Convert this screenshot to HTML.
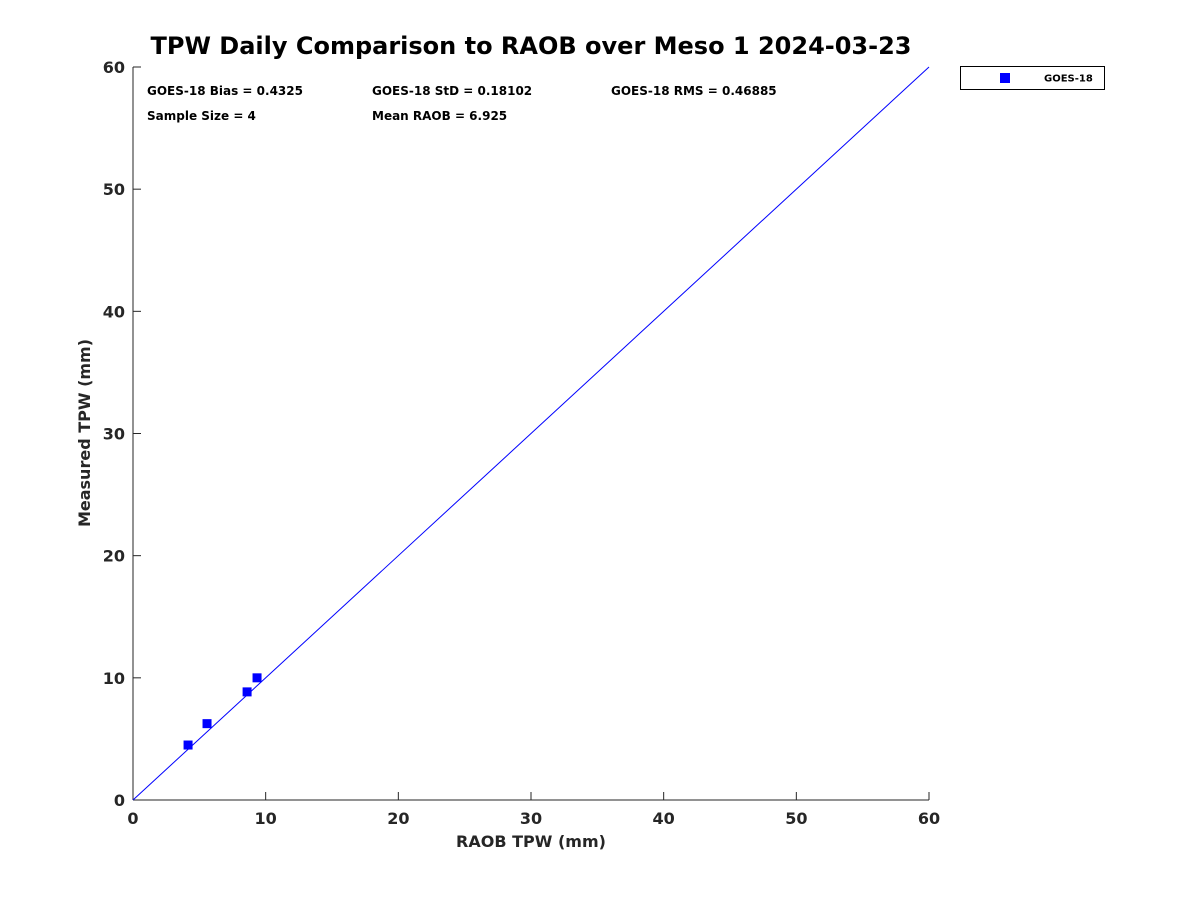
<!DOCTYPE html>
<html><head><meta charset="utf-8"><style>
body{margin:0;background:#fff;font-family:"Liberation Sans","DejaVu Sans",sans-serif}
</style></head><body>
<svg width="1200" height="900" xmlns="http://www.w3.org/2000/svg" font-family="DejaVu Sans, Liberation Sans, sans-serif" font-weight="bold">
<rect width="1200" height="900" fill="#fff"/>
<text x="531" y="54" text-anchor="middle" font-size="24" fill="#000">TPW Daily Comparison to RAOB over Meso 1 2024-03-23</text>
<g id="axes"></g>
<g id="marks"></g>
<g font-size="12" fill="#000">
<text x="147" y="95">GOES-18 Bias = 0.4325</text>
<text x="372" y="95">GOES-18 StD = 0.18102</text>
<text x="611" y="95">GOES-18 RMS = 0.46885</text>
<text x="147" y="120">Sample Size = 4</text>
<text x="372" y="120">Mean RAOB = 6.925</text>
</g>
<g>
<rect x="960.5" y="66.5" width="144" height="23" fill="#fff" stroke="#000" stroke-width="1"/>
<rect x="1000" y="73" width="10" height="10" fill="#0000ff"/>
<text x="1044" y="81.5" font-size="10" fill="#000">GOES-18</text>
</g>
<text x="531" y="847" text-anchor="middle" font-size="16" fill="#262626">RAOB TPW (mm)</text>
<text x="90" y="433" text-anchor="middle" font-size="16" fill="#262626" transform="rotate(-90 90 433)">Measured TPW (mm)</text>
</svg>
<script>
const xTicks=[0,10,20,30,40,50,60];
const yTicks=[0,10,20,30,40,50,60];
const raob=[4.15,5.58,8.6,9.35];
const measured=[4.5,6.25,8.85,10.0];
const x0=133,x1=929,y0=800,y1=67;
const sx=v=>x0+(v-0)/60*(x1-x0);
const sy=v=>y0-(v-0)/60*(y0-y1);
const NS="http://www.w3.org/2000/svg";
const axes=document.getElementById('axes'),marks=document.getElementById('marks');
function mk(tag,attrs,parent){const e=document.createElementNS(NS,tag);for(const k in attrs)e.setAttribute(k,attrs[k]);parent.appendChild(e);return e;}
let l=mk('line',{x1:x0,y1:y0,x2:x1,y2:y0,stroke:'#262626','stroke-width':1},axes);


l=mk('line',{x1:x0,y1:y0,x2:x0,y2:y1,stroke:'#262626','stroke-width':1},axes);


xTicks.forEach(t=>{const x=sx(t);
 mk('line',{x1:x,y1:y0,x2:x,y2:y0-8,stroke:'#262626'},axes);
 const tx=mk('text',{x:x,y:y0+24,'text-anchor':'middle','font-size':16,fill:'#262626'},axes);tx.textContent=t;
 
 });
yTicks.forEach(t=>{const y=sy(t);
 mk('line',{x1:x0,y1:y,x2:x0+8,y2:y,stroke:'#262626'},axes);
 const tx=mk('text',{x:x0-8,y:y+6,'text-anchor':'end','font-size':16,fill:'#262626'},axes);tx.textContent=t;
 
 });
const ref=mk('line',{x1:sx(0),y1:sy(0),x2:sx(60),y2:sy(60),stroke:'#0000ff','stroke-width':1},marks);


raob.forEach((v,i)=>{const p=mk('rect',{x:sx(v)-4.5,y:sy(measured[i])-4.5,width:9,height:9,fill:'#0000ff'},marks);
 
 });
</script>
</body></html>
